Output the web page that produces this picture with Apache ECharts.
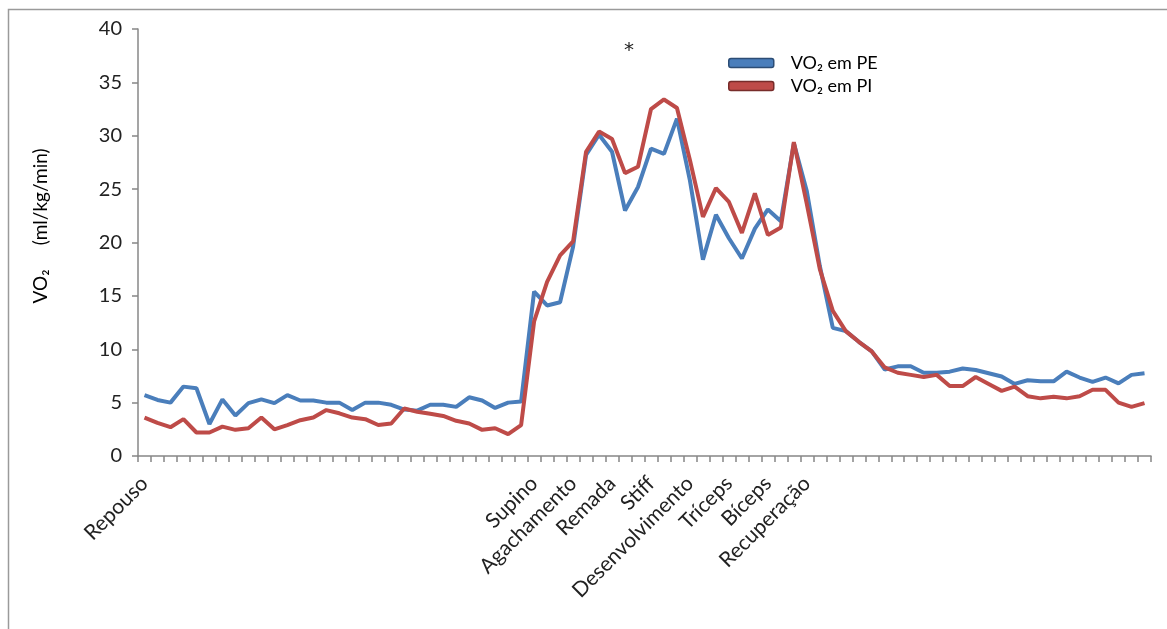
<!DOCTYPE html>
<html>
<head>
<meta charset="utf-8">
<script src="https://cdn.jsdelivr.net/npm/echarts@6/dist/echarts.min.js"></script>
<style>
html,body{margin:0;padding:0;background:#fff;}
#chart{width:1167px;height:629px;}
</style>
</head>
<body>
<div id="chart"></div>
<script>
// Sample sequence (78 measurements)
const sampleCount = 78;
// Phase labels and the sample index where each label is shown
const phaseLabels = ['Repouso','Supino','Agachamento','Remada','Stiff','Desenvolvimento','Tríceps','Bíceps','Recuperação'];
const phaseIndex  = [0, 30, 33, 36, 39, 42, 45, 48, 51];

// VO2 in PE (blue)
const vo2PE = [5.7,5.25,5.0,6.5,6.35,3.0,5.3,3.8,4.95,5.3,
               4.95,5.7,5.2,5.2,5.0,5.0,4.3,5.0,5.0,4.8,
               4.35,4.25,4.8,4.8,4.6,5.5,5.2,4.5,5.0,5.1,
               15.4,14.1,14.4,19.6,28.2,30.1,28.5,23.0,25.2,28.8,
               28.3,31.6,25.8,18.4,22.6,20.4,18.5,21.3,23.1,22.0,
               29.3,24.8,17.8,12.0,11.7,10.7,9.8,8.1,8.4,8.4,
               7.8,7.8,7.9,8.2,8.05,7.75,7.45,6.75,7.1,7.0,
               7.0,7.9,7.35,6.95,7.35,6.8,7.6,7.75];
// VO2 in PI (red)
const vo2PI = [3.6,3.1,2.7,3.45,2.2,2.2,2.75,2.45,2.6,3.6,
               2.5,2.9,3.35,3.6,4.3,4.0,3.6,3.45,2.9,3.05,
               4.45,4.15,3.95,3.75,3.3,3.05,2.45,2.6,2.05,2.9,
               12.6,16.3,18.8,20.1,28.5,30.4,29.7,26.5,27.1,32.5,
               33.4,32.6,27.7,22.4,25.1,23.8,20.9,24.6,20.7,21.4,
               29.4,23.6,17.5,13.6,11.7,10.7,9.8,8.3,7.8,7.6,
               7.4,7.6,6.55,6.55,7.4,6.75,6.1,6.5,5.6,5.4,
               5.55,5.4,5.6,6.2,6.2,5.0,4.6,4.95];

const seriesNames = ['VO\u2082 em PE', 'VO\u2082 em PI'];
const yTicks = {min: 0, max: 40, interval: 5};
const asteriskAt = {index: 37, value: 38.0};

const categories = [];
const tickLabels = [];
for (let i = 0; i < sampleCount; i++) {
  categories.push(String(i + 1));
  const k = phaseIndex.indexOf(i);
  tickLabels.push(k >= 0 ? phaseLabels[k] : '');
}

const FONT = 'Lato, "DejaVu Sans", sans-serif';
const AXIS_COLOR = '#878787';
const BLUE = '#4A7EBB';
const RED = '#BE4B48';

const chart = echarts.init(document.getElementById('chart'), null, {renderer: 'canvas'});
chart.setOption({
  animation: false,
  backgroundColor: '#fff',
  grid: {left: 138, right: 16, top: 29, bottom: 173, containLabel: false},
  graphic: [
    {type: 'rect', shape: {x: 8.5, y: 9.5, width: 1200, height: 700},
     style: {fill: 'none', stroke: '#9a9a9a', lineWidth: 1.5}, silent: true, z: -1},
    {type: 'text', x: 41, y: 226, rotation: Math.PI / 2,
     style: {text: 'VO\u2082     (ml/kg/min)', font: '19px ' + FONT, fill: '#000',
             textAlign: 'center', textVerticalAlign: 'middle'}}
  ],
  legend: {
    orient: 'vertical', left: 723, top: 49, itemWidth: 45, itemHeight: 9, itemGap: 5,
    textStyle: {fontFamily: FONT, fontSize: 18, color: '#000', padding: [0, 0, 0, 12]},
    data: [
      {name: seriesNames[0], icon: 'roundRect', itemStyle: {color: BLUE, borderColor: '#2C4D75', borderWidth: 1.5}},
      {name: seriesNames[1], icon: 'roundRect', itemStyle: {color: RED, borderColor: '#772C2A', borderWidth: 1.5}}
    ]
  },
  xAxis: {
    type: 'category', data: categories, boundaryGap: true,
    axisLine: {lineStyle: {color: AXIS_COLOR, width: 1.5}},
    axisTick: {show: true, interval: 0, length: 6, lineStyle: {color: AXIS_COLOR, width: 1.5}},
    axisLabel: {interval: 0, rotate: 45, margin: 24, fontFamily: FONT, fontSize: 21, color: '#222',
                formatter: (v, i) => tickLabels[i]},
    splitLine: {show: false}
  },
  yAxis: {
    type: 'value', min: yTicks.min, max: yTicks.max, interval: yTicks.interval,
    axisLine: {show: true, lineStyle: {color: AXIS_COLOR, width: 1.5}},
    axisTick: {show: true, length: 6, lineStyle: {color: AXIS_COLOR, width: 1.5}},
    axisLabel: {margin: 16, fontFamily: FONT, fontSize: 20, color: '#222'},
    splitLine: {show: false}
  },
  series: [
    {name: seriesNames[0], type: 'line', data: vo2PE, showSymbol: false, symbol: 'none',
     lineStyle: {color: BLUE, width: 4}, itemStyle: {color: BLUE}, z: 2},
    {name: seriesNames[1], type: 'line', data: vo2PI, showSymbol: false, symbol: 'none',
     lineStyle: {color: RED, width: 4}, itemStyle: {color: RED}, z: 3,
     markPoint: {
       symbol: 'circle', symbolSize: 0,
       label: {show: true, position: 'inside', offset: [4, 0], formatter: '*',
               fontFamily: '"DejaVu Sans", sans-serif', fontSize: 20, color: '#222'},
       data: [{coord: [categories[asteriskAt.index], asteriskAt.value]}]
     }}
  ]
});
</script>
</body>
</html>
